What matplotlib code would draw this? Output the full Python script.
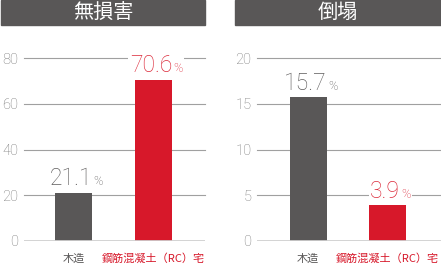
import matplotlib as mpl
import matplotlib.pyplot as plt
from matplotlib.patches import Rectangle
from matplotlib.offsetbox import TextArea, HPacker, AnnotationBbox

mpl.rcParams['font.family'] = ['Noto Sans CJK JP', 'DejaVu Sans']

# datos
categorias = ['木造', '鋼筋混凝土（RC）宅']
titulos = ['無損害', '倒塌']
sin_danio = [21.1, 70.6]
colapso = [15.7, 3.9]
ylims = [80, 20]
yticks = [[0, 20, 40, 60, 80], [0, 5, 10, 15, 20]]

gris = '#595757'
rojo = '#d7182a'
colores = [gris, rojo]
colores_valor = ['#5f5d5d', '#dc2a3a']

W, H = 441, 274
fig = plt.figure(figsize=(W / 100, H / 100), dpi=100)

# posiciones en pixeles
paneles = [
    dict(x=24, w=181, xlim=(-0.619, 1.644), bx=(1, 205), ancho=0.4625),
    dict(x=257, w=184, xlim=(-0.642, 1.673), bx=(235, 441), ancho=0.465),
]
datos = [sin_danio, colapso]

for p, vals, ymax, ticks, tit in zip(paneles, datos, ylims, yticks, titulos):
    ax = fig.add_axes([p['x'] / W, 1 - 241 / H, p['w'] / W, 183 / H])
    ax.set_xlim(*p['xlim'])
    ax.set_ylim(0, ymax)
    for s in ax.spines.values():
        s.set_visible(False)
    ax.set_yticks(ticks)
    ax.tick_params(axis='y', length=0, pad=4, labelsize=10.5, labelcolor='#777777')
    for t in ax.get_yticklabels():
        t.set_fontfamily('Roboto')
        t.set_fontweight('light')
    for v in ticks[1:]:
        ax.axhline(v, color='#a0a0a0', lw=0.8, zorder=0, clip_on=False)
    ax.axhline(0, color='#cfcfcf', lw=2, zorder=3)

    x = [0, 1]
    ax.bar(x, vals, width=p['ancho'], color=colores, zorder=2)
    ax.set_xticks(x)
    ax.set_xticklabels(categorias, fontsize=8)
    ax.tick_params(axis='x', length=0, pad=9)
    for t, c in zip(ax.get_xticklabels(), colores):
        t.set_color(c)

    # etiquetas de valor (fondo blanco que corta la grilla)
    for xi, v, c in zip(x, vals, colores_valor):
        num = TextArea(f'{v}', textprops=dict(fontsize=16.5, color=c,
                                               family='Roboto', weight='light'))
        pct = TextArea('%', textprops=dict(fontsize=9, color=c,
                                            family='Roboto', weight='light'))
        caja = HPacker(children=[num, pct], align='baseline', pad=0, sep=1)
        ab = AnnotationBbox(caja, (xi, v), xybox=(2, 2), xycoords='data',
                            boxcoords='offset points', box_alignment=(0.5, 0),
                            frameon=True, pad=0.1,
                            bboxprops=dict(facecolor='white', edgecolor='none'))
        ab.set_zorder(5)
        ax.add_artist(ab)

    # barra de titulo
    x0, x1 = p['bx']
    fig.patches.append(Rectangle((x0 / W, 1 - 25 / H), (x1 - x0) / W, 25 / H,
                                 transform=fig.transFigure, color=gris, zorder=0))
    fig.text((x0 + x1) / 2 / W, 1 - 12.5 / H, tit, color='white', fontsize=14.5,
             ha='center', va='center')

fig.savefig('out.png', dpi=100)
